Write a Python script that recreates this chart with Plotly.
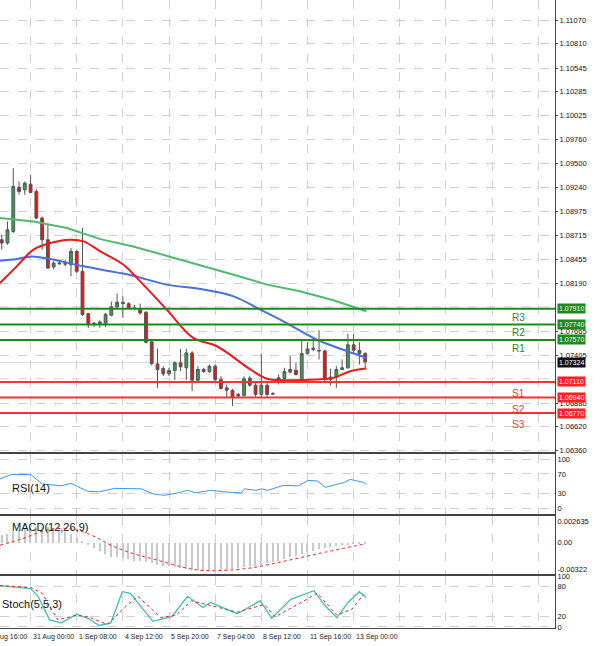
import plotly.graph_objects as go

# ---------------- data ----------------
opens  = [1.08666,1.08630,1.08757,1.09241,1.09212,1.09274,1.09194,1.08903,1.08666,1.08368,1.08411,1.08404,1.08393,1.08539,1.08321,1.07858,
          1.07749,1.07738,1.07738,1.07840,1.07931,1.07982,1.07967,1.07920,1.07902,1.07873,1.07549,1.07308,1.07257,1.07199,1.07236,1.07319,
          1.07265,1.07428,1.07130,1.07247,1.07225,1.07283,1.07137,1.07046,1.07017,1.06956,1.06963,1.07152,1.07075,1.06974,1.07075,1.06981,
          1.07137,1.07148,1.07218,1.07239,1.07137,1.07421,1.07465,1.07454,1.07450,1.07137,1.07163,1.07247,1.07265,1.07516,1.07454,1.07421]
closes = [1.08630,1.08775,1.09249,1.09194,1.09285,1.09183,1.08903,1.08666,1.08357,1.08411,1.08404,1.08400,1.08539,1.08321,1.07847,1.07738,
          1.07752,1.07767,1.07847,1.07931,1.07982,1.07967,1.07920,1.07916,1.07865,1.07545,1.07312,1.07247,1.07199,1.07236,1.07319,1.07276,
          1.07428,1.07130,1.07247,1.07225,1.07283,1.07137,1.07039,1.07021,1.06937,1.06974,1.07145,1.07075,1.06974,1.07075,1.06974,1.06978,
          1.07156,1.07225,1.07247,1.07192,1.07421,1.07472,1.07480,1.07450,1.07137,1.07163,1.07247,1.07265,1.07516,1.07458,1.07421,1.07330]
highs  = [1.08721,1.08866,1.09449,1.09303,1.09303,1.09376,1.09219,1.08921,1.08830,1.08430,1.08430,1.08448,1.08575,1.08557,1.08794,1.07865,
          1.07763,1.07785,1.07865,1.07989,1.08077,1.08047,1.07982,1.07956,1.07967,1.07884,1.07567,1.07472,1.07283,1.07265,1.07338,1.07472,
          1.07472,1.07447,1.07283,1.07265,1.07301,1.07301,1.07174,1.07083,1.07035,1.06992,1.07174,1.07174,1.07101,1.07421,1.07101,1.06999,
          1.07192,1.07265,1.07392,1.07319,1.07574,1.07545,1.07574,1.07676,1.07465,1.07254,1.07283,1.07356,1.07636,1.07636,1.07545,1.07436]
lows   = [1.08557,1.08612,1.08739,1.09158,1.09158,1.09176,1.08892,1.08557,1.08346,1.08339,1.08393,1.08375,1.08266,1.08302,1.07829,1.07702,
          1.07712,1.07702,1.07712,1.07829,1.07909,1.07811,1.07902,1.07902,1.07847,1.07531,1.07290,1.07046,1.07174,1.07174,1.07130,1.07228,
          1.07137,1.07010,1.07119,1.07210,1.07210,1.07119,1.07028,1.06937,1.06846,1.06937,1.06948,1.07057,1.06937,1.06948,1.06948,1.06974,
          1.07083,1.07101,1.07203,1.07181,1.07119,1.07410,1.07447,1.07356,1.07119,1.07072,1.07046,1.07239,1.07254,1.07428,1.07301,1.07265]

ma_green_x = [-0.3,5.5,11.3,17.1,22.8,28.6,34.4,40.2,46.0,51.7,57.5,63.2]
ma_green_y = [1.08903,1.08866,1.08794,1.08673,1.08593,1.08491,1.08393,1.08284,1.08175,1.08102,1.08004,1.07884]
ma_blue_x = [-0.3,2.6,5.2,8.4,14.2,19.9,22.8,28.6,34.4,40.2,44.8,48.8,54.6,57.5,63.2]
ma_blue_y = [1.08437,1.08455,1.08484,1.08455,1.08375,1.08309,1.08273,1.08175,1.08127,1.08047,1.07902,1.07774,1.07574,1.07501,1.07374]
ma_red_x = [-0.3,2.6,5.5,8.4,11.8,14.2,17.1,21.1,24.0,28.6,33.2,37.3,43.1,46.0,48.8,54.6,57.5,60.4,63.2]
ma_red_y = [1.08193,1.08375,1.08557,1.08630,1.08666,1.08648,1.08539,1.08393,1.08211,1.07902,1.07592,1.07501,1.07247,1.07145,1.07130,1.07137,1.07156,1.07228,1.07257]

res_levels = [1.07910, 1.07740, 1.07570]
res_names = ["R3", "R2", "R1"]
sup_levels = [1.07110, 1.06940, 1.06770]
sup_names = ["S1", "S2", "S3"]
last_price = 1.07324

price_ticks = [1.11070,1.10810,1.10545,1.10285,1.10025,1.09760,1.09500,1.09240,1.08975,1.08715,1.08455,
               1.08190,1.07665,1.07405,1.06880,1.06620,1.06360]
grid_prices = [1.07930, 1.07145]

rsi_x = [-0.3,1.7,5.0,7.0,10.3,12.0,14.9,16.9,19.6,24.2,26.2,28.2,30.2,32.2,33.5,36.2,39.5,41.5,42.1,44.1,45.1,46.1,48.8,51.4,53.1,54.7,56.1,59.4,60.4,62.7,63.2]
rsi_y = [60,69,69,50,46,51,35,34,41,40,30,27,31,37,32,37,33,32,40,37,40,37,47,46,57,56,43,53,59,53,49]

macd_hist = [9,11,13,15,17,18,19,19,19,18,16,13,10,6,
             2,-3,-6,-10,-14,-17,-18,-19,-20,-22,-23,-24,-25,-27,
             -28,-29,-30,-31,-32,-33,-33,-34,-34,-34,-33,-33,-32,-31,
             -30,-29,-28,-27,-25,-24,-22,-20,-18,-16,-14,-12,-10,-8,
             -6,-5,-4,-3,-3,-2,-2,-1]  # x 1e-4
macd_sig_x = [-0.3,3.7,7.7,11.6,14.9,19.6,22.9,26.2,32.9,36.2,42.8,49.4,56.1,62.7]
macd_sig_y = [-2.9,5.3,15.4,17.4,11.3,-5,-13.4,-19.6,-32,-34,-31,-21.7,-11.3,-1.7]  # x 1e-4

st_x = [-0.3,1.7,5.0,6.3,8.3,10.3,13.0,14.9,16.9,18.9,20.9,22.3,26.2,29.5,32.2,34.9,36.2,40.8,44.8,46.8,50.1,54.1,56.1,58.1,60.0,62.0,63.2]
st_y = [81,79,75,60,14,8,25,17,3,8,69,66,11,20,60,38,48,26,51,17,54,71,41,18,48,69,57]
sg_x = [-0.3,5.0,7.0,9.7,13.0,14.9,18.3,21.6,23.6,27.6,30.2,32.9,35.5,40.8,45.5,47.4,50.8,54.7,58.1,60.7,62.7]
sg_y = [81,77,66,14,23,20,5,41,60,18,23,51,44,29,44,20,41,66,23,35,63]

date_labels = ["30 Aug 16:00","31 Aug 00:00","1 Sep 08:00","4 Sep 12:00","5 Sep 20:00","7 Sep 04:00","8 Sep 12:00","11 Sep 16:00","13 Sep 00:00"]
date_pos = [-3,5,13,21,29,37,45,53,61]

# ---------------- figure ----------------
XR = [-0.3, 95.9]
idx = list(range(len(opens)))
fig = go.Figure()
fig.add_trace(go.Candlestick(x=idx, open=opens, high=highs, low=lows, close=closes,
    increasing=dict(fillcolor="#2fa34a", line=dict(color="#555555", width=1)),
    decreasing=dict(fillcolor="#e8141c", line=dict(color="#555555", width=1)),
    whiskerwidth=0, xaxis="x", yaxis="y", showlegend=False))
fig.add_trace(go.Scatter(x=ma_green_x, y=ma_green_y, mode="lines", line=dict(color="#4cbb6e", width=2), yaxis="y"))
fig.add_trace(go.Scatter(x=ma_blue_x, y=ma_blue_y, mode="lines", line=dict(color="#4a6fe0", width=2, shape="spline"), yaxis="y"))
fig.add_trace(go.Scatter(x=ma_red_x, y=ma_red_y, mode="lines", line=dict(color="#f01818", width=2, shape="spline"), yaxis="y"))

fig.add_trace(go.Scatter(x=rsi_x, y=rsi_y, mode="lines", line=dict(color="#3d95f0", width=1), xaxis="x2", yaxis="y2"))
fig.add_trace(go.Bar(x=idx, y=[v*1e-4 for v in macd_hist], marker=dict(color="#c8c8c8", line=dict(width=0)), width=0.25, xaxis="x3", yaxis="y3"))
fig.add_trace(go.Scatter(x=macd_sig_x, y=[v*1e-4 for v in macd_sig_y], mode="lines", line=dict(color="#f02020", width=1, dash="dot", shape="spline"), xaxis="x3", yaxis="y3"))
fig.add_trace(go.Scatter(x=st_x, y=st_y, mode="lines", line=dict(color="#3fbfb0", width=1.3), xaxis="x4", yaxis="y4"))
fig.add_trace(go.Scatter(x=sg_x, y=sg_y, mode="lines", line=dict(color="#f02020", width=1, dash="dot"), xaxis="x4", yaxis="y4"))

shapes = []
annos = []
for gp in grid_prices:
    shapes.append(dict(type="line", xref="paper", x0=0, x1=1, yref="y", y0=gp, y1=gp, layer="below",
                       line=dict(color="#d0d0d0", width=1, dash="dash")))
for lv, nm in zip(res_levels, res_names):
    shapes.append(dict(type="line", xref="paper", x0=0, x1=1, yref="y", y0=lv, y1=lv, line=dict(color="#1e8a1e", width=2)))
    annos.append(dict(xref="x", x=89.5, yref="y", y=lv, text=nm, showarrow=False, yanchor="top", yshift=-1, font=dict(color="#1e8a1e", size=10)))
    annos.append(dict(xref="paper", x=1.004, yref="y", y=lv, text="%.5f" % lv, showarrow=False, xanchor="left", bgcolor="#1e8a1e", font=dict(color="white", size=7, family="Liberation Sans"), borderpad=1))
for lv, nm in zip(sup_levels, sup_names):
    shapes.append(dict(type="line", xref="paper", x0=0, x1=1, yref="y", y0=lv, y1=lv, line=dict(color="#ff3030", width=2)))
    annos.append(dict(xref="x", x=89.5, yref="y", y=lv, text=nm, showarrow=False, yanchor="top", yshift=-4, font=dict(color="#ff3030", size=10)))
    annos.append(dict(xref="paper", x=1.004, yref="y", y=lv, text="%.5f" % lv, showarrow=False, xanchor="left", bgcolor="#ff2020", font=dict(color="white", size=7, family="Liberation Sans"), borderpad=1))
shapes.append(dict(type="line", xref="paper", x0=0, x1=1, yref="y", y0=last_price, y1=last_price, line=dict(color="#d8d8d8", width=1), layer="below"))
annos.append(dict(xref="paper", x=1.004, yref="y", y=last_price, text="%.5f" % last_price, showarrow=False, xanchor="left", bgcolor="#111111", font=dict(color="white", size=7, family="Liberation Sans"), borderpad=1))

for t, xv, yv in [("RSI(14)", 0.018, 0.21), ("MACD(12,26,9)", 0.018, 0.148), ("Stoch(5,5,3)", 0.0, 0.026)]:
    annos.append(dict(xref="paper", x=xv, yref="paper", y=yv, text=t, showarrow=False, xanchor="left", font=dict(color="#111", size=11, family="Liberation Sans")))
for p, lab in zip(date_pos, date_labels):
    annos.append(dict(xref="paper", x=(p - XR[0]) / (XR[1] - XR[0]), yref="paper", y=0, yshift=-3, text=lab, showarrow=False,
                      xanchor="left", yanchor="top", font=dict(color="#222", size=7, family="Liberation Sans")))

grid = dict(showgrid=True, gridcolor="#d0d0d0", griddash="dash", gridwidth=1)
xticks = list(range(5, 96, 8))
common_x = dict(range=XR, showticklabels=False, tickvals=xticks, zeroline=False, automargin=False, rangeslider=dict(visible=False), **grid)
ax_line = dict(showline=True, linecolor="#444", linewidth=1, mirror=True)
tf = dict(size=7.5, color="#111", family="Liberation Sans")

fig.update_layout(
    width=600, height=646, margin=dict(l=0, r=45, t=0, b=18, autoexpand=False),
    paper_bgcolor="white", plot_bgcolor="white", showlegend=False, bargap=0,
    font=dict(family="Liberation Sans"),
    xaxis=dict(domain=[0, 1], anchor="y", **common_x, **ax_line),
    xaxis2=dict(domain=[0, 1], anchor="y2", matches="x", **common_x, **ax_line),
    xaxis3=dict(domain=[0, 1], anchor="y3", matches="x", **common_x, **ax_line),
    xaxis4=dict(domain=[0, 1], anchor="y4", matches="x", **common_x, **ax_line),
    yaxis=dict(domain=[0.281, 1], range=[1.06349, 1.11289], side="right", tickvals=price_ticks,
               ticktext=["%.5f" % v for v in price_ticks], tickfont=tf, automargin=False,
               ticks="outside", ticklen=2, zeroline=False, **grid, **ax_line),
    yaxis2=dict(domain=[0.182, 0.277], range=[-10, 110], side="right", tickvals=[0, 30, 70, 100], automargin=False,
                tickfont=tf, zeroline=False, **grid, **ax_line),
    yaxis3=dict(domain=[0.086, 0.178], range=[-0.0038, 0.00325], side="right", tickvals=[-0.00322, 0, 0.002635],
                ticktext=["-0.00322", "0.00", "0.002635"], tickfont=tf, zeroline=False, automargin=False,
                showgrid=False, **ax_line),
    yaxis4=dict(domain=[0, 0.083], range=[-2, 100], side="right", tickvals=[0, 20, 80, 100], automargin=False,
                tickfont=tf, zeroline=False, **grid, **ax_line),
    shapes=shapes, annotations=annos,
)
fig.write_html("out.html", config={"displayModeBar": False},
               post_script="document.body.style.margin='0';document.body.style.overflow='hidden';")
